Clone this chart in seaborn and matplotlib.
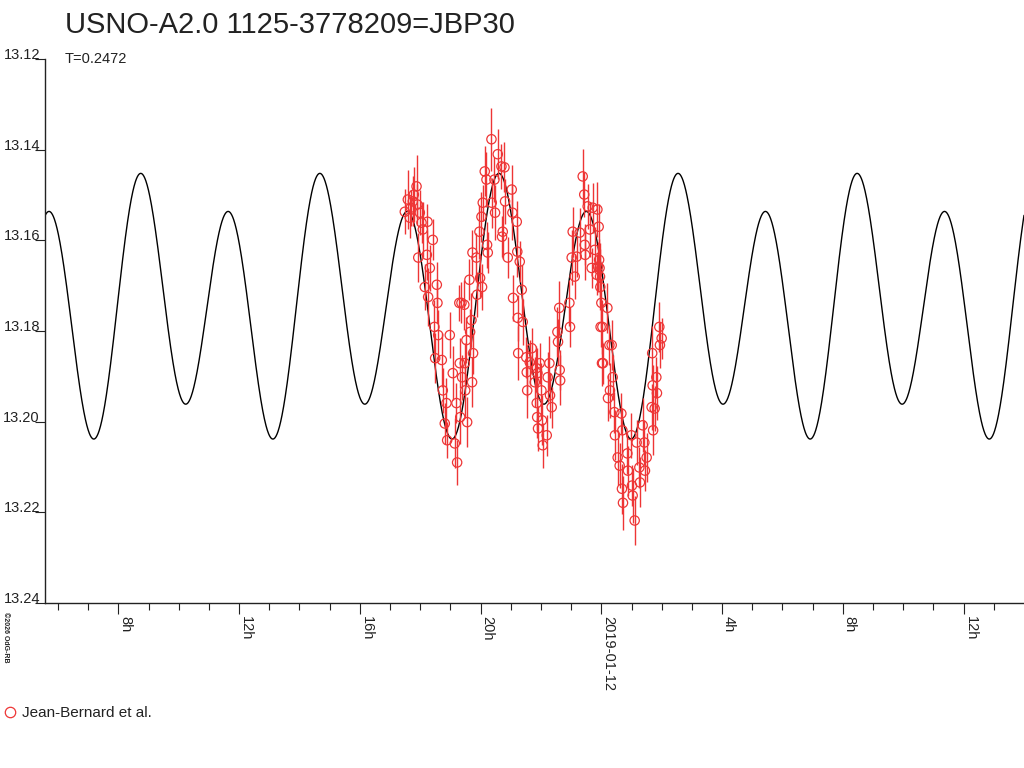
import numpy as np
import pandas as pd
import matplotlib
matplotlib.use("Agg")
import matplotlib.pyplot as plt
import seaborn as sns
from matplotlib.lines import Line2D
from matplotlib.ticker import FixedLocator, FixedFormatter

# ---------------- texts ----------------
title = "USNO-A2.0 1125-3778209=JBP30"
subtitle = "T=0.2472"
series_label = "Jean-Bernard et al."
credit = "©2026 OdG-RB"

# ---------------- model (Fourier fit, period T) ----------------
period_days = 0.2472
epoch_hours = 14.64            # brightest maximum, hours since 2019-01-11 00:00
model_mean = 13.1747
model_cos = [-0.0042, -0.0252]  # harmonics 1, 2
model_sin = [-0.00385, 0.0]

# ---------------- axes ----------------
x_range = [5.57, 38.0]          # hours since 2019-01-11 00:00
y_range = [13.24, 13.12]        # magnitude, inverted
y_ticks = [13.12, 13.14, 13.16, 13.18, 13.20, 13.22, 13.24]
y_tick_labels = ["13.12", "13.14", "13.16", "13.18", "13.20", "13.22", "13.24"]
x_major_ticks = [8, 12, 16, 20, 24, 28, 32, 36]
x_major_labels = ["8h", "12h", "16h", "20h", "2019-01-12", "4h", "8h", "12h"]
x_minor_ticks = [6, 7, 9, 10, 11, 13, 14, 15, 17, 18, 19, 21, 22, 23, 25, 26,
                 27, 29, 30, 31, 33, 34, 35, 37]

# ---------------- observations ----------------
obs_time = [
    17.489, 17.589, 17.655, 17.688, 17.754, 17.787, 17.877, 17.905, 17.935, 17.986,
    18.042, 18.085, 18.151, 18.218, 18.240, 18.262, 18.317, 18.416, 18.470, 18.494,
    18.549, 18.570, 18.594, 18.714, 18.747, 18.813, 18.868, 18.892, 18.979, 19.078,
    19.144, 19.200, 19.222, 19.295, 19.310, 19.325, 19.366, 19.386, 19.460, 19.475,
    19.490, 19.530, 19.554, 19.630, 19.652, 19.697, 19.717, 19.730, 19.750, 19.862,
    19.884, 19.961, 19.983, 20.028, 20.048, 20.071, 20.137, 20.194, 20.214, 20.237,
    20.359, 20.369, 20.458, 20.478, 20.568, 20.690, 20.710, 20.733, 20.790, 20.810,
    20.899, 21.031, 21.054, 21.074, 21.197, 21.215, 21.230, 21.245, 21.296, 21.362,
    21.395, 21.513, 21.528, 21.543, 21.627, 21.693, 21.793, 21.844, 21.859, 21.874,
    21.882, 21.902, 21.958, 22.014, 22.034, 22.057, 22.190, 22.223, 22.279, 22.299,
    22.355, 22.544, 22.564, 22.605, 22.620, 22.635, 22.941, 22.961, 23.017, 23.050,
    23.117, 23.183, 23.282, 23.382, 23.433, 23.448, 23.463, 23.547, 23.613, 23.679,
    23.712, 23.779, 23.845, 23.868, 23.888, 23.910, 23.925, 23.940, 23.955, 23.965,
    23.975, 24.000, 24.020, 24.033, 24.053, 24.199, 24.219, 24.265, 24.285, 24.341,
    24.375, 24.431, 24.451, 24.540, 24.606, 24.662, 24.682, 24.696, 24.716, 24.861,
    24.881, 24.993, 25.013, 25.036, 25.103, 25.169, 25.258, 25.278, 25.368, 25.424,
    25.444, 25.500, 25.666, 25.684, 25.699, 25.714, 25.765, 25.821, 25.841, 25.920,
    25.940, 25.997,
]
obs_mag = [
    13.1537, 13.1510, 13.1550, 13.1528, 13.1514, 13.1499, 13.1481, 13.1521, 13.1638, 13.1539,
    13.1561, 13.1576, 13.1703, 13.1632, 13.1559, 13.1725, 13.1661, 13.1599, 13.1791, 13.1860,
    13.1698, 13.1738, 13.1809, 13.1864, 13.1931, 13.2004, 13.1959, 13.2041, 13.1809, 13.1893,
    13.2048, 13.1959, 13.2090, 13.1738, 13.1871, 13.1990, 13.1738, 13.1902, 13.1742, 13.1871,
    13.1931, 13.1820, 13.2001, 13.1687, 13.1802, 13.1776, 13.1913, 13.1627, 13.1849, 13.1638,
    13.1720, 13.1581, 13.1683, 13.1548, 13.1703, 13.1517, 13.1448, 13.1466, 13.1610, 13.1627,
    13.1377, 13.1517, 13.1466, 13.1539, 13.1410, 13.1437, 13.1592, 13.1581, 13.1439, 13.1514,
    13.1638, 13.1488, 13.1539, 13.1727, 13.1559, 13.1625, 13.1771, 13.1849, 13.1647, 13.1709,
    13.1780, 13.1858, 13.1891, 13.1931, 13.1869, 13.1838, 13.1913, 13.1882, 13.1959, 13.1990,
    13.1893, 13.2015, 13.1871, 13.1931, 13.1997, 13.2052, 13.2030, 13.1902, 13.1871, 13.1942,
    13.1968, 13.1802, 13.1824, 13.1749, 13.1886, 13.1909, 13.1738, 13.1791, 13.1638, 13.1581,
    13.1680, 13.1636, 13.1583, 13.1459, 13.1499, 13.1610, 13.1632, 13.1525, 13.1576, 13.1661,
    13.1528, 13.1621, 13.1676, 13.1532, 13.1658, 13.1570, 13.1643, 13.1661, 13.1680, 13.1703,
    13.1791, 13.1738, 13.1871, 13.1791, 13.1871, 13.1749, 13.1948, 13.1831, 13.1931, 13.1831,
    13.1902, 13.1979, 13.2030, 13.2079, 13.2097, 13.1982, 13.2148, 13.2019, 13.2179, 13.2070,
    13.2108, 13.2030, 13.2141, 13.2163, 13.2218, 13.2046, 13.2101, 13.2134, 13.2008, 13.2046,
    13.2108, 13.2079, 13.1968, 13.1849, 13.1920, 13.2019, 13.1971, 13.1902, 13.1937, 13.1791,
    13.1831, 13.1816,
]
obs_err = [
    0.0050, 0.0065, 0.0045, 0.0040, 0.0055, 0.0060, 0.0070, 0.0045, 0.0055, 0.0050,
    0.0045, 0.0060, 0.0050, 0.0055, 0.0040, 0.0065, 0.0050, 0.0045, 0.0060, 0.0055,
    0.0050, 0.0045, 0.0055, 0.0060, 0.0050, 0.0045, 0.0055, 0.0040, 0.0050, 0.0060,
    0.0055, 0.0045, 0.0050, 0.0040, 0.0055, 0.0060, 0.0045, 0.0050, 0.0055, 0.0045,
    0.0060, 0.0050, 0.0055, 0.0045, 0.0050, 0.0060, 0.0055, 0.0050, 0.0045, 0.0055,
    0.0050, 0.0060, 0.0045, 0.0055, 0.0050, 0.0040, 0.0055, 0.0060, 0.0050, 0.0045,
    0.0070, 0.0055, 0.0050, 0.0060, 0.0055, 0.0050, 0.0045, 0.0060, 0.0055, 0.0050,
    0.0045, 0.0055, 0.0060, 0.0050, 0.0045, 0.0055, 0.0050, 0.0060, 0.0045, 0.0055,
    0.0050, 0.0045, 0.0055, 0.0060, 0.0050, 0.0045, 0.0055, 0.0050, 0.0060, 0.0045,
    0.0055, 0.0050, 0.0045, 0.0060, 0.0055, 0.0050, 0.0045, 0.0055, 0.0060, 0.0050,
    0.0045, 0.0055, 0.0050, 0.0060, 0.0045, 0.0055, 0.0050, 0.0045, 0.0060, 0.0055,
    0.0050, 0.0045, 0.0055, 0.0060, 0.0050, 0.0045, 0.0055, 0.0050, 0.0060, 0.0045,
    0.0055, 0.0050, 0.0045, 0.0060, 0.0055, 0.0050, 0.0045, 0.0055, 0.0060, 0.0050,
    0.0045, 0.0055, 0.0050, 0.0060, 0.0045, 0.0055, 0.0050, 0.0045, 0.0060, 0.0055,
    0.0050, 0.0045, 0.0055, 0.0060, 0.0050, 0.0045, 0.0055, 0.0050, 0.0060, 0.0045,
    0.0055, 0.0050, 0.0045, 0.0060, 0.0055, 0.0050, 0.0045, 0.0055, 0.0060, 0.0050,
    0.0045, 0.0055, 0.0050, 0.0060, 0.0045, 0.0055, 0.0050, 0.0045, 0.0060, 0.0055,
    0.0050, 0.0045,
]

# ---------------- style ----------------
sns.set_style("white")
plt.rcParams["font.family"] = ["Liberation Sans", "DejaVu Sans"]
ink = "#222222"
red = "#ee3535"

fig = plt.figure(figsize=(10.24, 7.68), dpi=100)
W, H = 1024.0, 768.0
ax = fig.add_axes([45 / W, 1 - 603 / H, 1 - 45 / W, 544 / H])

# model curve
period_h = period_days * 24.0
model_t = np.linspace(x_range[0], x_range[1], 3000)
theta = 2 * np.pi * (model_t - epoch_hours) / period_h
model_m = model_mean + sum(
    c * np.cos((k + 1) * theta) + s * np.sin((k + 1) * theta)
    for k, (c, s) in enumerate(zip(model_cos, model_sin))
)
model_df = pd.DataFrame({"t": model_t, "m": model_m})
sns.lineplot(data=model_df, x="t", y="m", color="black", linewidth=1.0,
             estimator=None, sort=False, ax=ax, zorder=2)

# observations
obs_df = pd.DataFrame({"t": obs_time, "m": obs_mag, "e": obs_err})
ax.errorbar(obs_df["t"], obs_df["m"], yerr=obs_df["e"], fmt="none",
            ecolor=red, elinewidth=1.0, capsize=0, zorder=3)
sns.scatterplot(data=obs_df, x="t", y="m", marker="o", s=45,
                facecolors="none", edgecolor=red, linewidth=0.9, ax=ax, zorder=4)

# axes
ax.set_xlim(*x_range)
ax.set_ylim(*y_range)
ax.set_xlabel("")
ax.set_ylabel("")
for side in ["top", "right"]:
    ax.spines[side].set_visible(False)
for side in ["left", "bottom"]:
    ax.spines[side].set_color(ink)
    ax.spines[side].set_linewidth(1.0)

ax.yaxis.set_major_locator(FixedLocator(y_ticks))
ax.yaxis.set_major_formatter(FixedFormatter(y_tick_labels))
ax.tick_params(axis="y", which="major", left=True, direction="out", length=7.2,
               width=0.8, color=ink, labelsize=10.5, labelcolor=ink, pad=-3.6)
for lbl in ax.get_yticklabels():
    lbl.set_verticalalignment("baseline")

ax.xaxis.set_major_locator(FixedLocator(x_major_ticks))
ax.xaxis.set_major_formatter(FixedFormatter(x_major_labels))
ax.xaxis.set_minor_locator(FixedLocator(x_minor_ticks))
ax.tick_params(axis="x", which="major", bottom=True, direction="out", length=8,
               width=0.8, color=ink, labelsize=10.5, labelcolor=ink, pad=1,
               labelrotation=-90)
ax.tick_params(axis="x", which="minor", bottom=True, direction="out", length=5,
               width=0.8, color=ink)
for lbl in ax.get_xticklabels():
    lbl.set_horizontalalignment("left")
    lbl.set_verticalalignment("top")

# texts
fig.text(65 / W, 1 - 33 / H, title, fontsize=21, color=ink, va="baseline", ha="left")
fig.text(65 / W, 1 - 63 / H, subtitle, fontsize=10.5, color=ink, va="baseline", ha="left")
fig.text(2 / W, 1 - 612 / H, credit, fontsize=5, color=ink, rotation=-90,
         va="top", ha="left", fontweight="bold")

# legend
handle = Line2D([], [], marker="o", linestyle="none", markerfacecolor="none",
                markeredgecolor=red, markersize=7.5, markeredgewidth=0.9)
fig.legend(handles=[handle], labels=[series_label], loc="center left",
           bbox_to_anchor=(2 / W, 1 - 713 / H), frameon=False, fontsize=11,
           handlelength=1.0, handletextpad=0.3, borderpad=0, borderaxespad=0,
           labelcolor=ink)

fig.savefig("out.png", dpi=100)
